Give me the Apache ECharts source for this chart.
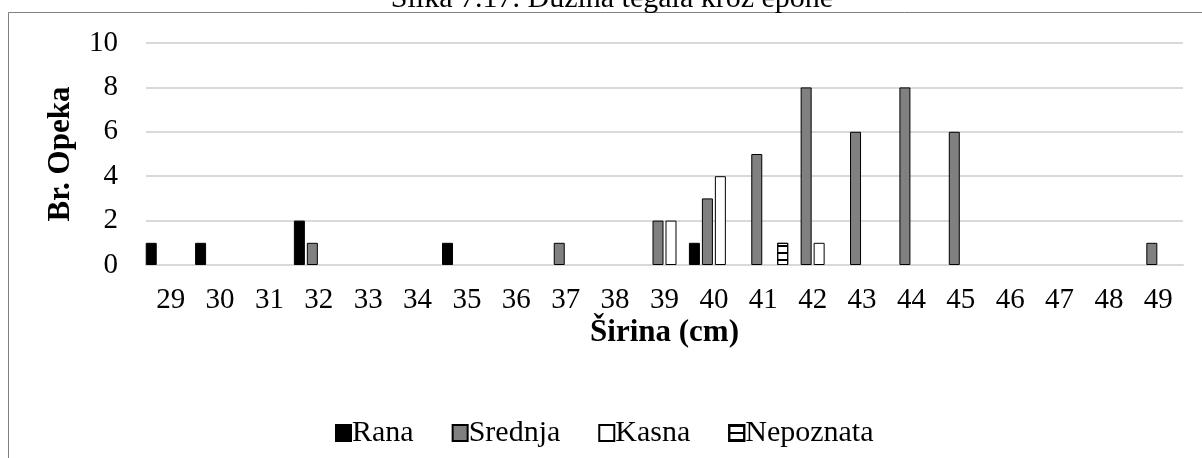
<!DOCTYPE html>
<html>
<head>
<meta charset="utf-8">
<script src="https://cdn.jsdelivr.net/npm/echarts@6/dist/echarts.min.js"></script>
<style>
  html, body { margin: 0; padding: 0; background: #fff; }
  #chart { width: 1202px; height: 458px; }
</style>
</head>
<body>
<div id="chart"></div>
<script>
const categories = ['29', '30', '31', '32', '33', '34', '35', '36', '37', '38', '39',
  '40', '41', '42', '43', '44', '45', '46', '47', '48', '49'];
const rana = [1, 1, null, 2, null, null, 1, null, null, null, null,
  1, null, null, null, null, null, null, null, null, null];
const srednja = [null, null, null, 1, null, null, null, null, 1, null, 2,
  3, 5, 8, 6, 8, 6, null, null, null, 1];
const kasna = [null, null, null, null, null, null, null, null, null, null, 2,
  4, null, 1, null, null, null, null, null, null, null];
const nepoznata = [null, null, null, null, null, null, null, null, null, null, null,
  null, 1, null, null, null, null, null, null, null, null];
const yTicks = [0, 2, 4, 6, 8, 10];

const serif = '"Liberation Serif", "Times New Roman", serif';
const myChart = echarts.init(document.getElementById('chart'));

const stripes = {
  symbol: 'rect',
  symbolSize: 1,
  color: '#000',
  dashArrayX: [[1, 0]],
  dashArrayY: [2, 5],
  rotation: 0,
};

function barSeries(name, data, color, decal) {
  const itemStyle = { color: color, borderColor: '#000', borderWidth: 1 };
  if (decal) itemStyle.decal = decal;
  return {
    name: name,
    type: 'bar',
    data: data,
    barWidth: 11,
    barGap: '18%',
    itemStyle: itemStyle,
  };
}

const option = {
  animation: false,
  textStyle: { fontFamily: serif },
  graphic: [
    {
      type: 'rect',
      shape: { x: 8.5, y: 12.5, width: 1210, height: 480 },
      style: { fill: 'none', stroke: '#808080', lineWidth: 1 },
      silent: true,
    },
    {
      type: 'text',
      x: 612,
      y: -16,
      style: {
        text: 'Slika 7.17. Dužina tegala kroz epohe',
        font: '30px ' + serif,
        fill: '#000',
        textAlign: 'center',
        textVerticalAlign: 'top',
      },
    },
  ],
  grid: { left: 146, right: 19, top: 43, bottom: 193 },
  legend: {
    bottom: 5,
    left: 330,
    icon: 'rect',
    itemWidth: 15,
    itemHeight: 16,
    itemGap: 38,
    textStyle: { fontSize: 30, color: '#000', fontFamily: serif, padding: [0, 0, 0, -4] },
    data: ['Rana', 'Srednja', 'Kasna', 'Nepoznata'],
  },
  xAxis: {
    type: 'category',
    data: categories,
    name: 'Širina (cm)',
    nameLocation: 'middle',
    nameGap: 52,
    nameTextStyle: { fontSize: 31, fontWeight: 'bold', color: '#000', fontFamily: serif },
    axisLine: { lineStyle: { color: '#d9d9d9', width: 2 } },
    axisTick: { show: false },
    axisLabel: { fontSize: 29, color: '#000', margin: 21, fontFamily: serif },
  },
  yAxis: {
    type: 'value',
    min: yTicks[0],
    max: yTicks[yTicks.length - 1],
    interval: 2,
    name: 'Br. Opeka',
    nameLocation: 'middle',
    nameGap: 70,
    nameTextStyle: { fontSize: 31, fontWeight: 'bold', color: '#000', fontFamily: serif },
    axisLine: { show: false },
    axisTick: { show: false },
    axisLabel: { fontSize: 29, color: '#000', margin: 28, fontFamily: serif },
    splitLine: { lineStyle: { color: '#d9d9d9', width: 2 } },
  },
  series: [
    barSeries('Rana', rana, '#000'),
    barSeries('Srednja', srednja, '#808080'),
    barSeries('Kasna', kasna, '#fff'),
    barSeries('Nepoznata', nepoznata, '#fff', stripes),
  ],
};

myChart.setOption(option);
</script>
</body>
</html>
